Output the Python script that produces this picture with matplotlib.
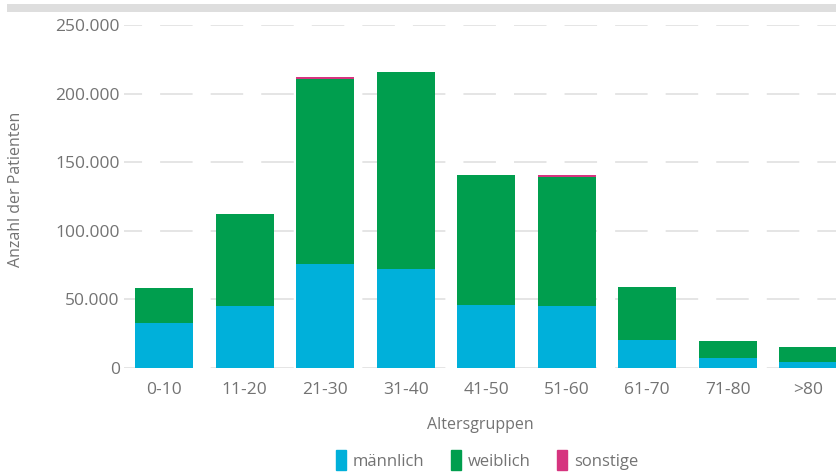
import matplotlib
matplotlib.use("Agg")
import matplotlib.pyplot as plt
from matplotlib.patches import Rectangle
import numpy as np

plt.rcParams["font.family"] = ["Open Sans", "DejaVu Sans"]

# Daten
altersgruppen = ["0-10", "11-20", "21-30", "31-40", "41-50", "51-60", "61-70", "71-80", ">80"]
maennlich = [33000, 45500, 76000, 72500, 46000, 45500, 20500, 7500, 4500]
weiblich = [25500, 66500, 135000, 143500, 95000, 94000, 38800, 12300, 11000]
sonstige = [0, 0, 1100, 0, 0, 1000, 0, 0, 0]

FARBE_M = "#00b0da"
FARBE_W = "#009e4e"
FARBE_S = "#d6347f"
TEXT = "#737373"
GRID = "#e3e3e3"

fig = plt.figure(figsize=(8.36, 4.72), dpi=100)

# graue Leiste oben
fig.add_artist(Rectangle((7 / 836, 1 - 12 / 472), 1, 8 / 472, transform=fig.transFigure,
                         color="#dedede", lw=0))

ax = fig.add_axes([124 / 836, 1 - 368 / 472, 1 - 124 / 836, (368 - 25) / 472])
x = np.arange(len(altersgruppen))
breite = 0.72
m = np.array(maennlich)
w = np.array(weiblich)
s = np.array(sonstige)
ax.bar(x, m, breite, color=FARBE_M, zorder=3)
ax.bar(x, w, breite, bottom=m, color=FARBE_W, zorder=3)
ax.bar(x, s, breite, bottom=m + w, color=FARBE_S, zorder=3)

ax.set_xlim(-0.5, (836 - 124) / 80.5 - 0.5)
ax.set_ylim(0, 250000)
ax.set_yticks(np.arange(0, 250001, 50000))
ax.set_yticklabels([f"{v:,}".replace(",", ".") for v in range(0, 250001, 50000)])
ax.set_xticks(x)
ax.set_xticklabels(altersgruppen)

for yv in range(0, 250001, 50000):
    ax.axhline(yv, color=GRID, lw=1.3, linestyle=(8, (18, 10)), zorder=1)

for sp in ax.spines.values():
    sp.set_visible(False)
ax.tick_params(length=0, labelsize=12.5, labelcolor=TEXT)
ax.tick_params(axis="y", pad=3)
ax.tick_params(axis="x", pad=10)
ax.set_xlabel("Altersgruppen", color=TEXT, fontsize=11.5, labelpad=14)
ax.set_ylabel("Anzahl der Patienten", color=TEXT, fontsize=11.5)
ax.yaxis.set_label_coords(-100 / 712, 0.52)

handles = [Rectangle((0, 0), 1, 1, color=c) for c in (FARBE_M, FARBE_W, FARBE_S)]
fig.legend(handles, ["männlich", "weiblich", "sonstige"], loc="center",
           bbox_to_anchor=(487 / 836, 1 - 460 / 472), ncol=3, frameon=False,
           fontsize=12, labelcolor=TEXT, handlelength=0.6, handleheight=1.4,
           handletextpad=0.4, columnspacing=1.6)

fig.savefig("out.png", dpi=100)
